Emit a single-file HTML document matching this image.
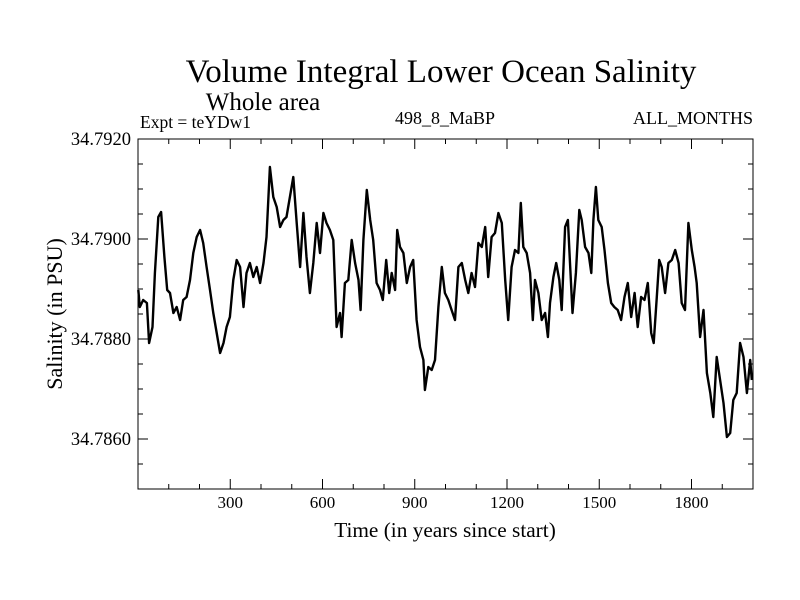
<!DOCTYPE html>
<html><head><meta charset="utf-8"><style>
html,body{margin:0;padding:0;background:#fff;}
svg{display:block;font-family:"Liberation Serif",serif;}
</style></head><body>
<svg id="chart" width="800" height="600" viewBox="0 0 800 600" xmlns="http://www.w3.org/2000/svg">
<rect x="0" y="0" width="800" height="600" fill="#fff"/>
<text x="441" y="82" font-size="33" text-anchor="middle">Volume Integral Lower Ocean Salinity</text>
<text x="263" y="110" font-size="25" text-anchor="middle">Whole area</text>
<text x="140" y="128" font-size="17.5">Expt = teYDw1</text>
<text x="445" y="124" font-size="18" text-anchor="middle">498_8_MaBP</text>
<text x="753" y="124" font-size="18" text-anchor="end">ALL_MONTHS</text>
<text transform="translate(62,314) rotate(-90)" font-size="22" text-anchor="middle">Salinity (in PSU)</text>
<text x="445" y="537" font-size="21.3" text-anchor="middle">Time (in years since start)</text>
<g id="ticks"></g>
<path id="series" fill="none" stroke="#000" stroke-width="2.4" stroke-linejoin="round"/>
<rect x="138" y="139" width="615" height="350" fill="none" stroke="#000" stroke-width="1"/>
</svg>
<script>
const years = [1,6,17,29,36,47,55,66,75,86,95,104,115,126,137,147,158,169,180,191,202,212,223,234,245,256,267,278,288,299,310,321,332,343,353,364,375,386,397,408,418,429,440,451,462,473,483,494,505,516,527,538,548,559,570,581,592,603,613,624,635,646,
657,662,673,684,695,706,717,724,733,744,755,765,776,787,796,807,817,825,836,843,852,863,874,885,895,906,917,928,933,944,955,966,977,988,998,1009,1020,1031,1042,1053,1064,1074,1085,1096,1107,1118,1129,1139,1150,1161,1172,1183,1194,1204,1215,1226,1237,1245,1253,1264,1275,1284,1291,1302,1313,
1324,1333,1340,1351,1360,1370,1378,1389,1398,1405,1413,1424,1435,1443,1454,1465,1474,1481,1489,1497,1508,1517,1528,1539,1549,1560,1571,1582,1593,1604,1615,1625,1636,1647,1658,1669,1677,1687,1695,1703,1714,1725,1736,1747,1758,1768,1779,1790,1801,1810,1817,1828,1839,1850,1861,1871,1882,1893,1904,1915,1926,1936,1947,1958,1969,1980,1991,1996];
const salinity = [34.78898,34.78864,34.78878,34.78872,34.78792,34.78824,34.78932,34.79044,34.79054,34.78964,34.78898,34.78892,34.78852,34.78864,34.78838,34.78878,34.78884,34.78918,34.78972,34.79004,
34.79018,34.78992,34.78944,34.78898,34.78852,34.78812,34.78772,34.78792,34.78824,34.78844,34.78918,34.78958,34.78944,34.78864,34.78932,34.78952,34.78924,34.78944,34.78912,34.78952,
34.79004,34.79144,34.79084,34.79064,34.79024,34.79038,34.79044,34.79084,34.79124,34.79032,34.78944,34.79052,34.78964,34.78892,34.78952,34.79032,34.78972,34.79052,34.79032,34.79018,
34.78998,34.78824,
34.78852,34.78804,34.78912,34.78918,34.78998,34.78952,34.78918,34.78858,34.78998,34.79098,
34.79038,34.78998,34.78912,34.78898,34.78878,34.78958,34.78892,34.78932,34.78898,34.79018,
34.78984,34.78972,34.78912,34.78944,34.78958,34.78838,34.78784,34.78758,34.78698,34.78744,
34.78738,34.78758,34.78864,34.78944,34.78892,34.78878,34.78858,34.78838,34.78944,34.78952,
34.78918,34.78892,34.78932,34.78904,34.78992,34.78984,34.79024,34.78924,34.79004,34.79012,
34.79052,34.79032,34.78918,34.78838,34.78944,34.78978,34.78972,34.79072,34.78984,34.78972,
34.78932,34.78838,34.78918,34.78892,34.78838,
34.78852,34.78804,34.78872,34.78924,34.78952,34.78918,34.78858,34.79024,34.79038,34.78952,
34.78852,34.78932,34.79058,34.79038,34.78984,34.78972,34.78932,34.79038,34.79104,34.79038,
34.79024,34.78978,34.78912,34.78872,34.78864,34.78858,34.78838,34.78884,34.78912,34.78844,
34.78892,34.78824,34.78884,34.78878,34.78912,34.78812,34.78792,34.78884,34.78958,34.78944,
34.78892,34.78952,34.78958,34.78978,34.78952,34.78872,34.78858,34.79032,34.78978,34.78944,
34.78912,34.78804,34.78858,34.78732,34.78692,34.78644,34.78764,34.78718,34.78672,34.78604,
34.78612,34.78678,34.78692,34.78792,34.78764,34.78692,34.78758,34.78718];
const xMajorTicks = [300,600,900,1200,1500,1800];
const yMajorTicks = [34.7920,34.7900,34.7880,34.7860];

const L=138,R=753,T=139,B=489, X0=0,X1=2000, Y0=34.785,Y1=34.792;
function sx(v){return L+(v-X0)/(X1-X0)*(R-L);}
function sy(v){return B-(v-Y0)/(Y1-Y0)*(B-T);}
const NS='http://www.w3.org/2000/svg';
let d='';
for(let i=0;i<years.length;i++){d+=(i?'L':'M')+sx(years[i]).toFixed(1)+','+sy(salinity[i]).toFixed(1);}
document.getElementById('series').setAttribute('d',d);
const g=document.getElementById('ticks');
function line(x1,y1,x2,y2,name){const l=document.createElementNS(NS,'line');
l.setAttribute('x1',x1);l.setAttribute('y1',y1);l.setAttribute('x2',x2);l.setAttribute('y2',y2);
l.setAttribute('stroke','#000');l.setAttribute('stroke-width','1');


g.appendChild(l);}
function text(x,y,s,anchor,name,fs){const t=document.createElementNS(NS,'text');
t.setAttribute('x',x);t.setAttribute('y',y);t.setAttribute('font-size',fs);t.setAttribute('text-anchor',anchor);t.textContent=s;


g.appendChild(t);}
for(let v=100;v<X1;v+=100){const x=sx(v);const maj=v%300===0;const len=maj?10:5;
line(x,B,x,B-len,'x-tick');line(x,T,x,T+len,'x-tick-top');}
xMajorTicks.forEach(v=>text(sx(v),508,String(v),'middle','x-tick-label','17'));
for(let k=0;k<=14;k++){const v=Y0+k*0.0005;const y=sy(v);const maj=(k%4===2);const len=maj?10:5;
line(L,y,L+len,y,'y-tick');line(R,y,R-len,y,'y-tick-right');}
yMajorTicks.forEach(v=>text(L-7,sy(v)+6,v.toFixed(4),'end','y-tick-label','18.5'));
</script>
</body></html>
